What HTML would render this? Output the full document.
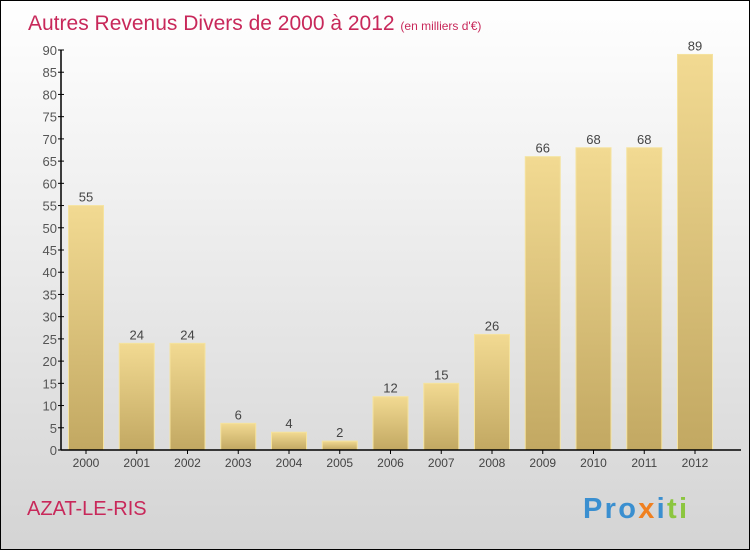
<!DOCTYPE html>
<html><head><meta charset="utf-8"><style>
html,body{margin:0;padding:0}
body{width:750px;height:550px;overflow:hidden;font-family:"Liberation Sans",sans-serif}
#wrap{position:relative;width:748px;height:548px;border:1px solid #000;background:linear-gradient(#ffffff,#d4d4d4)}
</style></head><body>
<div id="wrap">
<svg id="chart" width="748" height="548">
<defs><linearGradient id="bg" x1="0" y1="0" x2="0" y2="1"><stop offset="0" stop-color="#f2da92"/><stop offset="1" stop-color="#c2a862"/></linearGradient></defs>
<text x="27" y="29" font-size="21" fill="#c8285a">Autres Revenus Divers de 2000 à 2012 <tspan font-size="12">(en milliers d'€)</tspan></text>
<text x="26" y="514" font-size="20" fill="#c8285a">AZAT-LE-RIS</text>
<text x="582" y="517" font-size="29" font-weight="bold" textLength="104"><tspan fill="#3a8fd0">Pro</tspan><tspan fill="#f08020">x</tspan><tspan fill="#3a8fd0">i</tspan><tspan fill="#8cc63f">ti</tspan></text>
<g id="plot"></g>
</svg>
</div>
<script>
const categories=["2000","2001","2002","2003","2004","2005","2006","2007","2008","2009","2010","2011","2012"];
const values=[55,24,24,6,4,2,12,15,26,66,68,68,89];
const yTicks=[0,5,10,15,20,25,30,35,40,45,50,55,60,65,70,75,80,85,90];
const NS="http://www.w3.org/2000/svg";
const g=document.getElementById('plot');
const x0=60,y0=449,yTop=49,yMax=90;
const y=v=>y0-(y0-yTop)*v/yMax;
const step=50.75,bw=35;
const xc=i=>85+i*step;
function mk(t,a){const e=document.createElementNS(NS,t);for(const k in a)e.setAttribute(k,a[k]);g.appendChild(e);return e;}
yTicks.forEach(t=>{
  const l=mk('line',{x1:x0-3,x2:x0+3,y1:y(t),y2:y(t),stroke:'#000'});
  
  
  const tx=mk('text',{x:x0-4,y:y(t)+5,'text-anchor':'end','font-size':13,fill:'#555'});
  tx.textContent=t;
  
  
});
values.forEach((v,i)=>{
  const r=mk('rect',{x:xc(i)-bw/2,y:y(v),width:bw,height:y0-y(v),fill:'url(#bg)',stroke:'#f5e39f','stroke-width':1});
  
  
  const t=mk('text',{x:xc(i),y:y(v)-4,'text-anchor':'middle','font-size':13,fill:'#444'});
  t.textContent=v;
  
  
  const tk=mk('line',{x1:xc(i),x2:xc(i),y1:y0,y2:y0+4,stroke:'#000'});
  
  
  const c=mk('text',{x:xc(i),y:y0+17,'text-anchor':'middle','font-size':12,fill:'#444'});
  c.textContent=categories[i];
  
  
});
const ya=mk('line',{x1:x0,x2:x0,y1:yTop,y2:y0,stroke:'#000','stroke-width':1.5});


const xa=mk('line',{x1:x0,x2:740,y1:y0,y2:y0,stroke:'#000','stroke-width':1.5});


</script>
</body></html>
